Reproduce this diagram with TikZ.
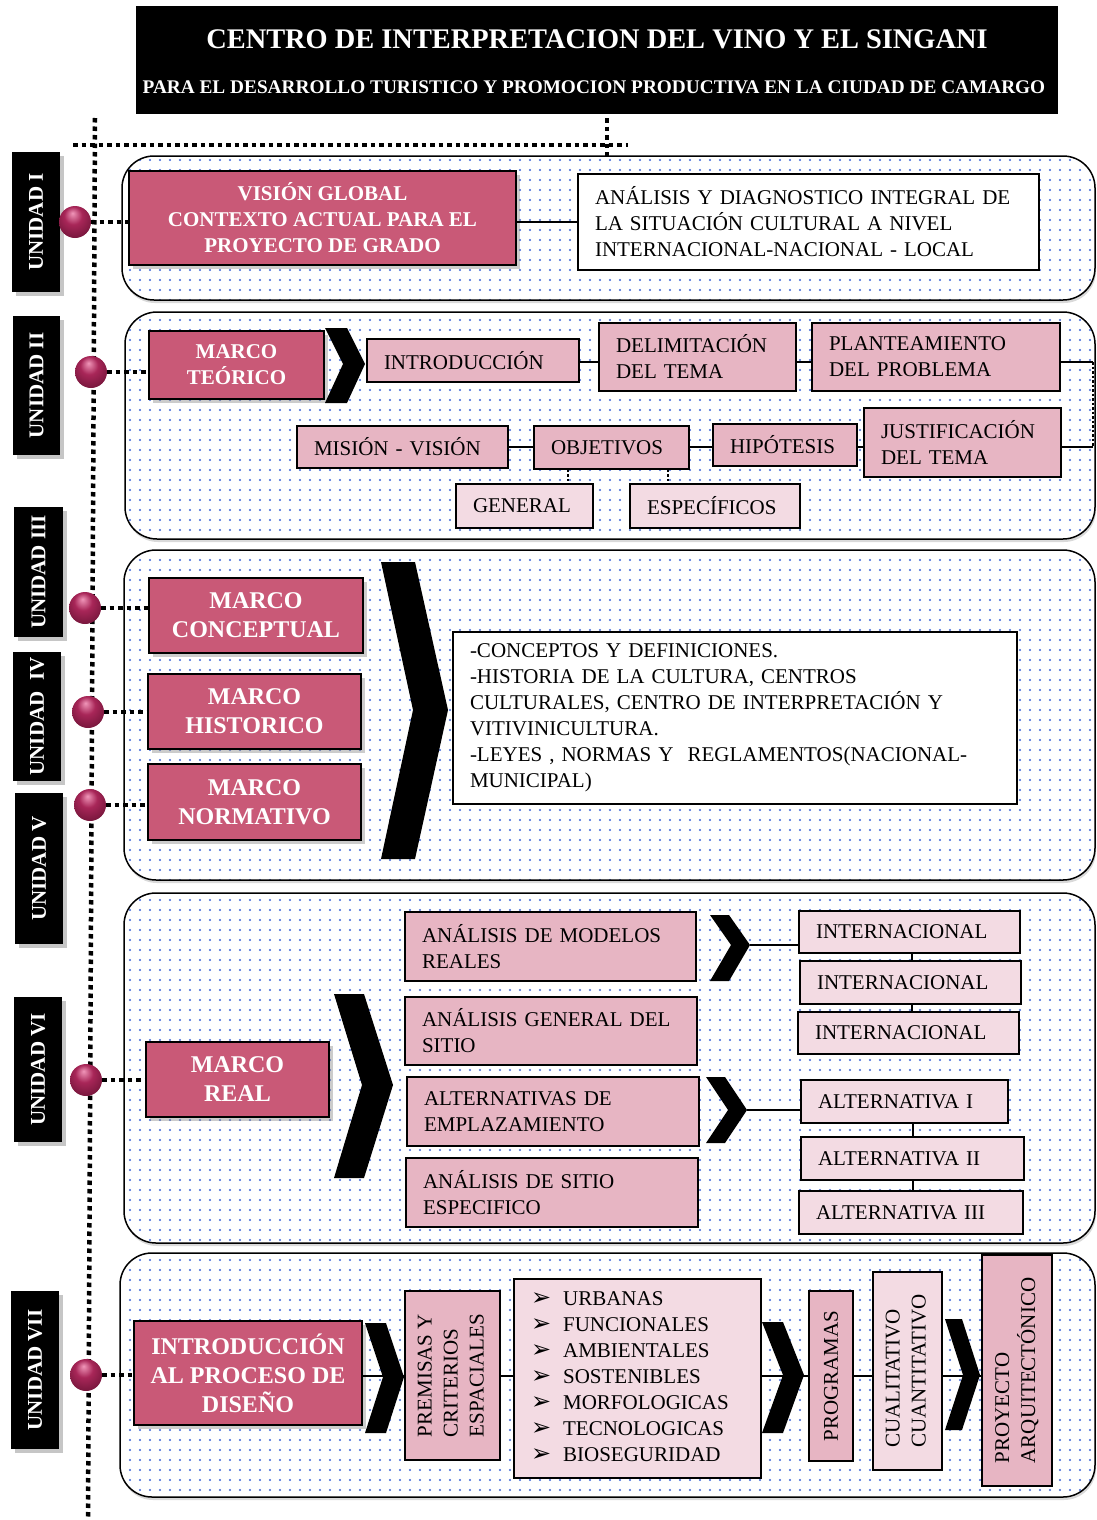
\documentclass[tikz,border=0pt]{standalone}
\usepackage{graphicx}
\usepackage{fontspec}
\setmainfont{Liberation Serif}
\newfontfamily\symfont{DejaVu Sans}
\usetikzlibrary{shadows,patterns.meta,calc}
\hyphenpenalty=10000
\exhyphenpenalty=10000
\definecolor{dpink}{RGB}{201,89,119}
\definecolor{mpink}{RGB}{231,181,195}
\definecolor{lpink}{RGB}{243,219,227}
\definecolor{dotblue}{RGB}{60,100,215}
\definecolor{ballc}{RGB}{168,38,88}
\definecolor{ballhl}{RGB}{240,150,185}
\definecolor{balldk}{RGB}{110,20,55}
\pgfdeclareradialshading{pball}{\pgfpoint{-4bp}{14bp}}{color(0bp)=(ballhl); color(14bp)=(ballc); color(34bp)=(balldk); color(50bp)=(balldk)}
\newcommand\bx[7]{%
 \pgfmathsetmacro\bxw{#5-#3}\pgfmathsetmacro\bxh{#6-#4}%
 \pgfmathsetmacro\bxcx{(#3+#5)/2}\pgfmathsetmacro\bxcy{(#4+#6)/2}%
 \node[#2, minimum width=\bxw pt, minimum height=\bxh pt] (#1) at (\bxcx,\bxcy) {#7};}
\newcommand\lbx[7]{%
 \pgfmathsetmacro\bxw{#5-#3}\pgfmathsetmacro\bxh{#6-#4}\pgfmathsetmacro\bxt{#5-#3-34}%
 \pgfmathsetmacro\bxcx{(#3+#5)/2}\pgfmathsetmacro\bxcy{(#4+#6)/2}%
 \node[#2, minimum width=\bxw pt, minimum height=\bxh pt, text width=\bxt pt, inner xsep=17pt, align=left] (#1) at (\bxcx,\bxcy) {#7};}
\newcommand\blt{{\symfont\fontsize{24}{26}\selectfont ➢}}
\begin{document}
\begin{tikzpicture}[x=1pt,y=-1pt,
  panel/.style={draw=black, line width=1.5pt, rounded corners=32pt, drop shadow={opacity=0.3, shadow xshift=1pt, shadow yshift=-3pt}, preaction={fill=white}, pattern={Dots[distance=10pt,radius=1.2pt]}, pattern color=dotblue},
  unitlab/.style={fill=black, text=white, inner sep=0pt, font=\fontsize{21}{25}\selectfont\bfseries, drop shadow={opacity=0.45, shadow xshift=4pt, shadow yshift=-4pt}},
  dbox/.style={fill=dpink, draw=black, line width=1.6pt, text=white, inner sep=0pt, align=center, font=\fontsize{21}{26}\selectfont\bfseries, drop shadow={opacity=0.4, shadow xshift=4pt, shadow yshift=-4pt}},
  dboxl/.style={dbox, font=\fontsize{24}{29}\selectfont\bfseries},
  wbox/.style={fill=white, draw=black, line width=1.6pt, inner ysep=0pt, text=black, font=\fontsize{21}{26}\selectfont},
  mbox/.style={wbox, fill=mpink},
  lbox/.style={wbox, fill=lpink},
  cbox/.style={draw=black, line width=1.6pt, inner sep=0pt, text=black, font=\fontsize{21}{26}\selectfont},
  conn/.style={line width=2.4pt, black},
  thinc/.style={line width=1.8pt, black},
  dotl/.style={line width=4.5pt, dash pattern=on 4.5pt off 4pt, black},
  dotc/.style={line width=2.5pt, dash pattern=on 2.5pt off 2pt, black},
  ball/.style={circle, minimum size=32pt, inner sep=0pt, shading=pball}
]
\useasboundingbox (0,0) rectangle (1096,1520);
% header
\bx{head}{fill=black}{136}{6}{1058}{114}{}
\node[text=white, font=\fontsize{28.4}{32}\selectfont\bfseries] (title) at (597,39) {CENTRO DE INTERPRETACION DEL VINO Y EL SINGANI};
\node[text=white, font=\fontsize{19.3}{22}\selectfont\bfseries] (subtitle) at (594,87) {PARA EL DESARROLLO TURISTICO Y PROMOCION PRODUCTIVA EN LA CIUDAD DE CAMARGO};
% panels
\draw[panel] (122,156) rectangle (1095,300);
\draw[panel] (125,312) rectangle (1095,539);
\draw[panel] (124,550) rectangle (1095,880);
\draw[panel] (124,893) rectangle (1095,1243);
\draw[panel] (120,1253) rectangle (1095,1497);
% dotted spine
\coordinate (vtop) at (95,118);
\coordinate (vbot) at (88,1520);
\coordinate (hl) at (73,145);
\coordinate (hr) at (628,145);
\coordinate (vt2) at (607,118);
\coordinate (vb2) at (607,156);
\draw[dotl] (vtop) -- (vbot);
\draw[dotl] (hl) -- (hr);
\draw[dotl] (vt2) -- (vb2);
% unit labels
\bx{u1}{unitlab}{12}{152}{60}{292}{\rotatebox{90}{UNIDAD I}}
\bx{u2}{unitlab}{13}{316}{60}{455}{\rotatebox{90}{UNIDAD II}}
\bx{u3}{unitlab}{14}{507}{63}{637}{\rotatebox{90}{UNIDAD III}}
\bx{u4}{unitlab}{13}{652}{61}{781}{\rotatebox{90}{UNIDAD\ \ IV}}
\bx{u5}{unitlab}{15}{793}{63}{944}{\rotatebox{90}{UNIDAD V}}
\bx{u6}{unitlab}{14}{997}{62}{1142}{\rotatebox{90}{UNIDAD VI}}
\bx{u7}{unitlab}{11}{1291}{59}{1449}{\rotatebox{90}{UNIDAD VII}}
% ===== unit I
\bx{v1}{dbox}{129}{171}{516}{265}{VISIÓN GLOBAL\\CONTEXTO ACTUAL PARA EL\\PROYECTO DE GRADO}
\lbx{a1}{wbox}{578}{174}{1039}{270}{ANÁLISIS Y DIAGNOSTICO INTEGRAL DE\\LA SITUACIÓN CULTURAL A NIVEL\\INTERNACIONAL-NACIONAL - LOCAL}
\draw[conn] (v1.east |- a1.west) -- (a1.west);
% ===== unit II
\bx{mt}{dbox}{149}{331}{324}{399}{MARCO\\TEÓRICO}
\fill[black] (325,328) -- (347,328) -- (365,364) -- (347,403) -- (325,403) -- (343,364) -- cycle;
\lbx{intro}{mbox}{367}{339}{579}{382}{INTRODUCCIÓN}
\lbx{delim}{mbox}{599}{323}{796}{391}{DELIMITACIÓN\\DEL TEMA}
\lbx{plant}{mbox}{812}{323}{1060}{391}{PLANTEAMIENTO\\DEL PROBLEMA}
\lbx{just}{mbox}{864}{408}{1061}{477}{JUSTIFICACIÓN\\DEL TEMA}
\lbx{hip}{mbox}{713}{424}{857}{466}{HIPÓTESIS}
\lbx{obj}{mbox}{534}{426}{689}{469}{OBJETIVOS}
\lbx{mis}{mbox}{297}{426}{508}{468}{MISIÓN - VISIÓN}
\lbx{gen}{lbox}{456}{484}{593}{528}{GENERAL}
\lbx{esp}{lbox}{630}{484}{800}{528}{ESPECÍFICOS}
\coordinate (r1) at (1093,362);
\coordinate (r2) at (1093,447);
\coordinate (row2) at (0,447);
\draw[conn] (intro.east |- r1) -- (delim.west |- r1);
\draw[conn] (delim.east |- r1) -- (plant.west |- r1);
\draw[conn] (plant.east |- r1) -- (r1);
\draw[dotc] (r1) -- (r2);
\draw[conn] (r2) -- (just.east |- r2);
\draw[conn] (just.west |- row2) -- (hip.east |- row2);
\draw[conn] (hip.west |- row2) -- (obj.east |- row2);
\draw[conn] (obj.west |- row2) -- (mis.east |- row2);
\draw[dotc] (obj.south -| 568,0) -- (gen.north -| 568,0);
\draw[dotc] (obj.south -| 668,0) -- (esp.north -| 668,0);
% ===== units III-V
\bx{mc}{dboxl}{149}{578}{363}{653}{MARCO\\CONCEPTUAL}
\bx{mh}{dboxl}{148}{674}{361}{749}{MARCO\\HISTORICO}
\bx{mn}{dboxl}{148}{764}{361}{840}{MARCO\\NORMATIVO}
\fill[black] (381,562) -- (415,562) -- (448,710) -- (415,859) -- (381,859) -- (413,710) -- cycle;
\lbx{t3}{wbox}{453}{632}{1017}{804}{-CONCEPTOS Y DEFINICIONES.\\-HISTORIA DE LA CULTURA, CENTROS\\CULTURALES, CENTRO DE INTERPRETACIÓN Y\\VITIVINICULTURA.\\-LEYES , NORMAS Y\ \ REGLAMENTOS(NACIONAL-\\MUNICIPAL)}
% ===== unit VI
\bx{mr}{dboxl}{146}{1042}{329}{1117}{MARCO\\REAL}
\fill[black] (334,994) -- (364,994) -- (393,1085) -- (364,1178) -- (334,1178) -- (362,1085) -- cycle;
\lbx{am}{mbox}{405}{912}{696}{981}{ANÁLISIS DE MODELOS\\REALES}
\lbx{ag}{mbox}{405}{997}{697}{1065}{ANÁLISIS GENERAL DEL\\SITIO}
\lbx{ae}{mbox}{407}{1077}{699}{1146}{ALTERNATIVAS DE\\EMPLAZAMIENTO}
\lbx{as}{mbox}{406}{1158}{698}{1227}{ANÁLISIS DE SITIO\\ESPECIFICO}
\fill[black] (710,915) -- (729,915) -- (750,945) -- (729,981) -- (710,981) -- (731,945) -- cycle;
\fill[black] (706,1077) -- (725,1077) -- (747,1110) -- (725,1143) -- (706,1143) -- (728,1110) -- cycle;
\coordinate (tip1) at (750,945);
\coordinate (tip2) at (747,1110);
\lbx{i1}{lbox}{799}{911}{1020}{953}{INTERNACIONAL}
\lbx{i2}{lbox}{800}{961}{1021}{1004}{INTERNACIONAL}
\lbx{i3}{lbox}{798}{1012}{1019}{1054}{INTERNACIONAL}
\lbx{al1}{lbox}{801}{1080}{1008}{1123}{ALTERNATIVA I}
\lbx{al2}{lbox}{801}{1137}{1024}{1180}{ALTERNATIVA II}
\lbx{al3}{lbox}{799}{1191}{1023}{1234}{ALTERNATIVA III}
\draw[thinc] (tip1) -- (tip1 -| i1.west);
\draw[thinc] (tip2) -- (tip2 -| al1.west);
\draw[thinc] (i1.south -| 912,0) -- (i2.north -| 912,0);
\draw[thinc] (i2.south -| 912,0) -- (i3.north -| 912,0);
\draw[thinc] (al1.south -| 913,0) -- (al2.north -| 913,0);
\draw[thinc] (al2.south -| 913,0) -- (al3.north -| 913,0);
% ===== unit VII
\coordinate (l7) at (0,1376);
\bx{ip}{dboxl}{134}{1321}{362}{1425}{INTRODUCCIÓN\\AL PROCESO DE\\DISEÑO}
\bx{prem}{cbox, fill=mpink}{405}{1291}{500}{1460}{\rotatebox{90}{\begin{tabular}{@{}l@{}}PREMISAS Y\\CRITERIOS\\ESPACIALES\end{tabular}}}
\lbx{lst}{lbox}{514}{1279}{761}{1478}{\begin{tabular}{@{}l@{\hspace{12pt}}l@{}}\blt & URBANAS\\\blt & FUNCIONALES\\\blt & AMBIENTALES\\\blt & SOSTENIBLES\\\blt & MORFOLOGICAS\\\blt & TECNOLOGICAS\\\blt & BIOSEGURIDAD\end{tabular}}
\bx{prog}{cbox, fill=mpink}{809}{1291}{853}{1461}{\rotatebox{90}{PROGRAMAS}}
\bx{cual}{cbox, fill=lpink}{873}{1272}{942}{1470}{\rotatebox{90}{\begin{tabular}{@{}l@{}}CUALITATIVO\\CUANTITATIVO\end{tabular}}}
\bx{proy}{cbox, fill=mpink}{982}{1255}{1052}{1486}{\rotatebox{90}{\begin{tabular}{@{}l@{}}PROYECTO\\ARQUITECTÓNICO\end{tabular}}}
\draw[conn] (ip.east |- l7) -- (prem.west |- l7);
\draw[conn] (prem.east |- l7) -- (lst.west |- l7);
\draw[conn] (lst.east |- l7) -- (prog.west |- l7);
\draw[conn] (prog.east |- l7) -- (cual.west |- l7);
\draw[conn] (cual.east |- l7) -- (proy.west |- l7);
\fill[black] (365,1323) -- (386,1323) -- (404,1377) -- (386,1433) -- (365,1433) -- (383,1377) -- cycle;
\fill[black] (762,1322) -- (783,1322) -- (804,1375) -- (783,1433) -- (762,1433) -- (783,1375) -- cycle;
\fill[black] (945,1319) -- (962,1319) -- (980,1375) -- (962,1430) -- (945,1430) -- (963,1375) -- cycle;
% balls and dotted connectors
\node[ball] (b1) at (75,222) {};
\node[ball] (b2) at (91,372) {};
\node[ball] (b3) at (85,608) {};
\node[ball] (b4) at (88,712) {};
\node[ball] (b5) at (90,805) {};
\node[ball] (b6) at (86,1080) {};
\node[ball] (b7) at (86,1375) {};
\draw[dotl] (b1.east) -- (b1.east -| v1.west);
\draw[dotl] (b2.east) -- (b2.east -| mt.west);
\draw[dotl] (b3.east) -- (b3.east -| mc.west);
\draw[dotl] (b4.east) -- (b4.east -| mh.west);
\draw[dotl] (b5.east) -- (b5.east -| mn.west);
\draw[dotl] (b6.east) -- (b6.east -| mr.west);
\draw[dotl] (b7.east) -- (b7.east -| ip.west);
\end{tikzpicture}
\end{document}
